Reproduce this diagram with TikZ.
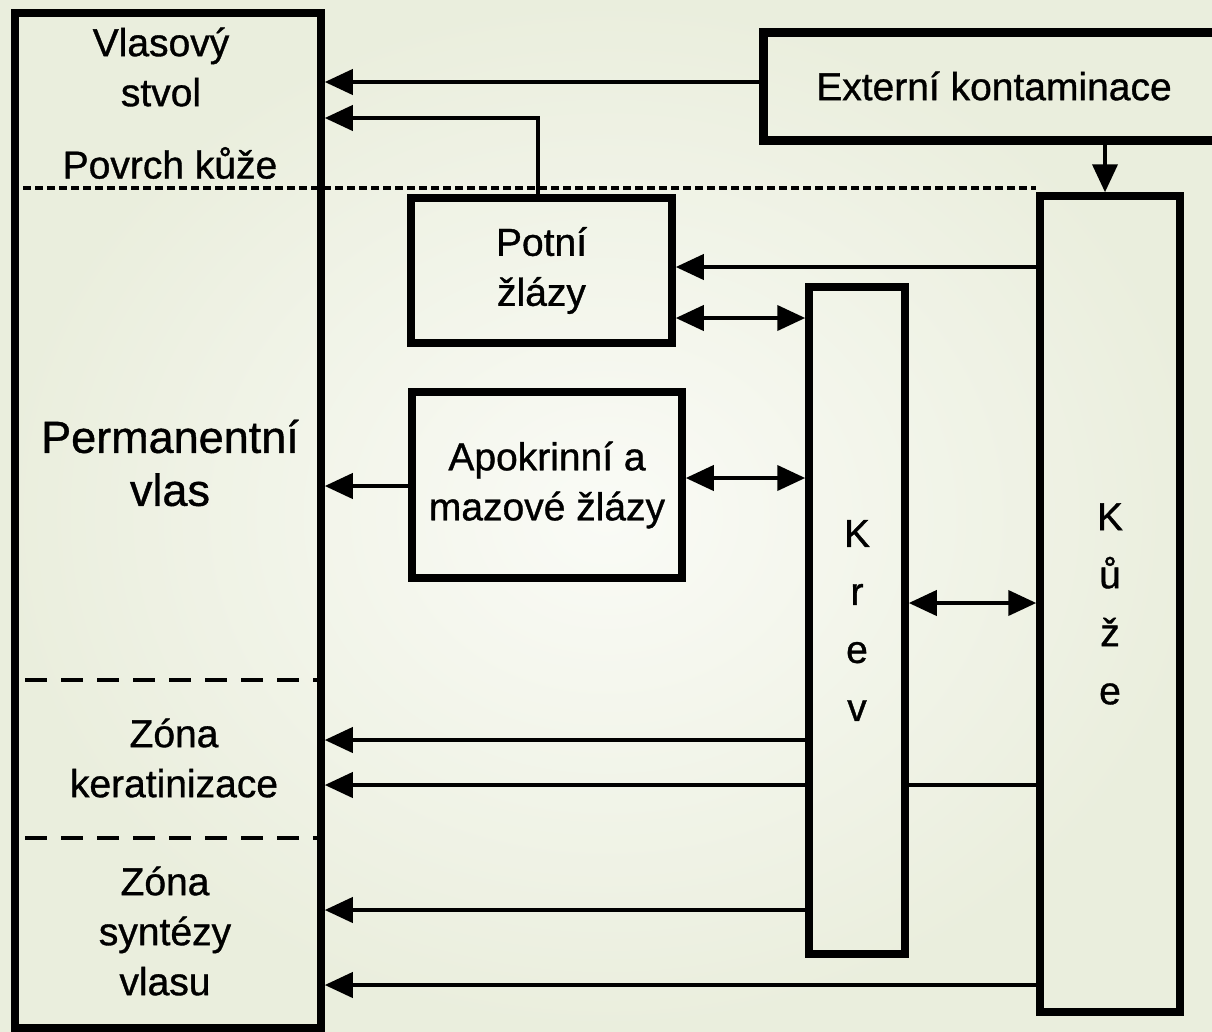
\documentclass[tikz,border=0pt]{standalone}
\usepackage{fontspec}
\setmainfont{Liberation Sans}[FakeBold=0.9]
\usetikzlibrary{arrows.meta}
\definecolor{bgout}{HTML}{EAEEDD}
\definecolor{bgin}{HTML}{FAFBF6}
\newcommand\lblfont{\fontsize{39}{50}\selectfont}
\newcommand\vertfont{\fontsize{39}{58}\selectfont}
\newcommand\permfont{\fontsize{45}{53}\selectfont}
\begin{document}
\begin{tikzpicture}[x=1pt,y=-1pt,
  box/.style={draw, line width=7.5pt, inner sep=0pt, align=center, font=\lblfont},
  vbox/.style={box, font=\vertfont},
  lbl/.style={align=center, font=\lblfont, inner sep=0pt},
  arr/.style={line width=4pt, -{Triangle[length=28pt,width=25pt]}},
  darr/.style={line width=4pt, {Triangle[length=28pt,width=25pt]}-{Triangle[length=28pt,width=25pt]}},
  plainline/.style={line width=4pt},
  surface/.style={line width=3.5pt, dash pattern=on 8pt off 4pt},
  zoneline/.style={line width=4.5pt, dash pattern=on 22pt off 14pt}]

\shade[inner color=bgin, outer color=bgout] (0,0) rectangle (1212,1031);
\useasboundingbox (0,0) rectangle (1212,1031);

% boxes
\node[box, minimum width=306pt, minimum height=1015pt] (hair) at (168,520.5) {};
\node[box, line width=9pt, minimum width=462pt, minimum height=108pt] (ext) at (994,86) {Externí kontaminace};
\node[box, minimum width=261pt, minimum height=145pt] (potni) at (541.5,270.5) {Potní\\žlázy};
\node[box, minimum width=270pt, minimum height=186pt] (apo) at (547,485) {Apokrinní a\\mazové žlázy};
\node[vbox, minimum width=96pt, minimum height=667pt] (krev) at (857,620.5) {K\\r\\e\\v};
\node[vbox, minimum width=140pt, minimum height=816pt] (kuze) at (1110,604) {K\\ů\\ž\\e};

% labels inside the hair box
\node[lbl] (vs) at (161,67) {Vlasový\\stvol};
\node[lbl] (pk) at (170,163) {Povrch kůže};
\node[lbl, font=\permfont] (pv) at (170,463) {Permanentní\\vlas};
\node[lbl] (zk) at (174,758) {Zóna\\keratinizace};
\node[lbl] (zs) at (165,931) {Zóna\\syntézy\\vlasu};

% dividers
\draw[surface] (hair.west |- 0,188) -- (kuze.north west |- 0,188);
\draw[zoneline] (25,680) -- (318,680);
\draw[zoneline] (25,838) -- (318,838);

% connectors
\draw[arr] (ext.west |- 0,82) -- (hair.east |- 0,82);
\draw[arr] ([xshift=-4pt]potni.north) |- (hair.east |- 0,118);
\draw[arr] (ext.south -| 1105,0) -- (kuze.north -| 1105,0);
\draw[arr] (kuze.west |- 0,267) -- (potni.east |- 0,267);
\draw[darr] (potni.east |- 0,318) -- (krev.west |- 0,318);
\draw[darr] (apo.east |- 0,478) -- (krev.west |- 0,478);
\draw[arr] (apo.west |- 0,486) -- (hair.east |- 0,486);
\draw[darr] (krev.east |- 0,603) -- (kuze.west |- 0,603);
\draw[arr] (krev.west |- 0,740) -- (hair.east |- 0,740);
\draw[plainline] (kuze.west |- 0,785) -- (krev.east |- 0,785);
\draw[arr] (krev.west |- 0,785) -- (hair.east |- 0,785);
\draw[arr] (krev.west |- 0,910) -- (hair.east |- 0,910);
\draw[arr] (kuze.west |- 0,985) -- (hair.east |- 0,985);
\end{tikzpicture}
\end{document}
